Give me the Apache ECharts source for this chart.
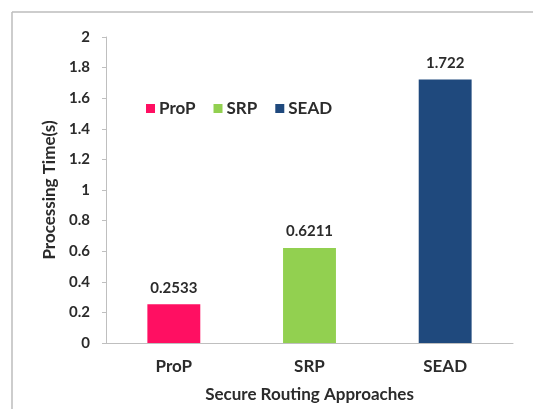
<!DOCTYPE html>
<html>
<head>
<meta charset="utf-8">
<script src="https://cdn.jsdelivr.net/npm/echarts@6/dist/echarts.min.js"></script>
<style>
  html, body { margin: 0; padding: 0; background: #fff; }
  #chart { width: 533px; height: 409px; }
</style>
</head>
<body>
<div id="chart"></div>
<script>
// Processing time per secure routing approach
const categories = ['ProP', 'SRP', 'SEAD'];
const processingTimes = [0.2533, 0.6211, 1.722];
const barColors = ['#FF0F62', '#92D050', '#1F497D'];
const yTicks = [0, 0.2, 0.4, 0.6, 0.8, 1, 1.2, 1.4, 1.6, 1.8, 2];

const FONT = 'Lato';
const TEXT = '#2b2b2b';
const WORD_SIZE = 17;
const NUM_SIZE = 15;

const chart = echarts.init(document.getElementById('chart'), null, { renderer: 'canvas' });

// one series per approach so each gets its own legend entry
const series = categories.map((name, i) => ({
  name: name,
  type: 'bar',
  stack: 'all',
  barWidth: '39%',
  itemStyle: { color: barColors[i] },
  label: {
    show: true,
    position: 'top',
    distance: 9,
    fontFamily: FONT,
    fontWeight: 'bold',
    fontSize: NUM_SIZE,
    color: TEXT,
    formatter: () => String(processingTimes[i])
  },
  data: categories.map((c, j) => (j === i ? processingTimes[i] : null))
}));

chart.setOption({
  animation: false,
  backgroundColor: '#ffffff',
  graphic: [
    { type: 'line', shape: { x1: 12, y1: 12, x2: 533, y2: 12 }, style: { stroke: '#bdbdbd', lineWidth: 1.5 } },
    { type: 'line', shape: { x1: 12, y1: 12, x2: 12, y2: 409 }, style: { stroke: '#bdbdbd', lineWidth: 1.5 } }
  ],
  legend: {
    left: 141,
    top: 95,
    itemWidth: 9,
    itemHeight: 9,
    itemGap: 18,
    icon: 'rect',
    textStyle: { fontFamily: FONT, fontWeight: 'bold', fontSize: WORD_SIZE, color: TEXT, padding: [0, 0, 0, -1] },
    data: categories
  },
  grid: { left: 106, right: 20, top: 37, bottom: 66, outerBoundsMode: 'none' },
  xAxis: {
    type: 'category',
    data: categories,
    name: 'Secure Routing Approaches',
    nameLocation: 'middle',
    nameGap: 43,
    nameTextStyle: { fontFamily: FONT, fontWeight: 'bold', fontSize: WORD_SIZE, color: TEXT },
    axisLine: { lineStyle: { color: '#bfbfbf', width: 1 } },
    axisTick: { show: false },
    axisLabel: { margin: 15, fontFamily: FONT, fontWeight: 'bold', fontSize: WORD_SIZE, color: TEXT }
  },
  yAxis: {
    type: 'value',
    min: yTicks[0],
    max: yTicks[yTicks.length - 1],
    interval: yTicks[1] - yTicks[0],
    name: 'Processing Time(s)',
    nameLocation: 'middle',
    nameGap: 47,
    nameTextStyle: { fontFamily: FONT, fontWeight: 'bold', fontSize: WORD_SIZE, color: TEXT },
    axisLine: { show: true, lineStyle: { color: '#bfbfbf', width: 1 } },
    axisTick: { show: true, length: 4, lineStyle: { color: '#bfbfbf' } },
    splitLine: { show: false },
    axisLabel: {
      margin: 16,
      fontFamily: FONT,
      fontWeight: 'bold',
      fontSize: NUM_SIZE,
      color: TEXT,
      formatter: v => String(Math.round(v * 10) / 10)
    }
  },
  series: series
});
</script>
</body>
</html>
